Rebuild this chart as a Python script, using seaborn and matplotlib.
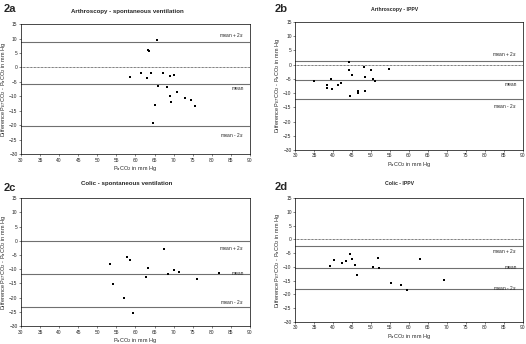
import numpy as np
import pandas as pd
import matplotlib
matplotlib.use("Agg")
import matplotlib.pyplot as plt
import seaborn as sns

# Dados (PaCO2, diferença PETCO2 - PaCO2)
a_x = [65.6, 63.2, 63.6, 58.7, 61.4, 63.1, 64.2, 67.2, 69.1, 70.0,
       65.8, 68.3, 70.9, 69.1, 65.1, 69.4, 73.0, 74.6, 75.6, 64.6]
a_y = [9.6, 6.1, 5.6, -3.4, -1.8, -3.6, -1.9, -1.9, -2.8, -2.7,
       -6.6, -6.9, -8.4, -9.9, -12.9, -12.1, -10.7, -11.3, -13.4, -19.1]

b_x = [35.1, 38.5, 38.5, 39.5, 39.8, 41.3, 42.1, 44.3, 44.1, 44.9,
       44.4, 46.7, 46.5, 48.1, 48.5, 48.5, 50.1, 50.5, 51.0, 54.7]
b_y = [-5.8, -7.1, -8.1, -5.1, -8.4, -7.0, -6.6, 1.1, -1.7, -3.6,
       -11.1, -9.2, -9.9, -0.8, -4.3, -9.1, -1.8, -5.1, -5.7, -1.6]

c_x = [53.3, 54.2, 57.7, 58.5, 57.0, 59.3, 62.8, 63.2, 67.6, 68.6,
       70.0, 71.4, 76.2, 82.0]
c_y = [-8.2, -15.1, -5.8, -6.7, -20.1, -25.4, -12.9, -9.5, -2.9, -11.8,
       -10.3, -10.8, -13.5, -11.4]

d_x = [39.3, 40.2, 42.3, 43.5, 44.4, 44.9, 45.9, 46.3, 50.6, 51.8,
       52.1, 55.2, 57.9, 59.5, 62.9, 69.1]
d_y = [-9.6, -7.4, -8.4, -7.7, -5.4, -7.1, -9.2, -12.9, -9.9, -6.9,
       -10.3, -15.8, -16.5, -18.3, -7.1, -14.8]

# limites: mean + 2s, mean, mean - 2s
a_lim = [8.9, -5.6, -20.1]
b_lim = [1.2, -5.5, -12.2]
c_lim = [-0.1, -11.7, -23.2]
d_lim = [-2.5, -10.3, -18.1]

titles = ["Arthroscopy - spontaneous ventilation", "Arthroscopy - IPPV",
          "Colic - spontaneous ventilation", "Colic - IPPV"]
tags = ["2a", "2b", "2c", "2d"]
lim_labels = ["mean + 2$s$", "mean", "mean - 2$s$"]
# posição vertical dos rótulos das linhas
a_lab = [11.3, -7.3, -23.3]
b_lab = [3.6, -6.8, -14.6]
c_lab = [-2.7, -11.6, -21.5]
d_lab = [-4.3, -10.2, -17.7]

sns.set_style("white")
plt.rcParams['font.family'] = ['Liberation Sans', 'DejaVu Sans']

fig = plt.figure(figsize=(5.26, 3.44), dpi=100)
rects = [[0.040, 0.552, 0.435, 0.378],
         [0.561, 0.564, 0.433, 0.372],
         [0.040, 0.052, 0.435, 0.372],
         [0.561, 0.064, 0.433, 0.360]]
paineis = [(a_x, a_y, a_lim, a_lab), (b_x, b_y, b_lim, b_lab),
           (c_x, c_y, c_lim, c_lab), (d_x, d_y, d_lim, d_lab)]
# posição e tamanho dos títulos
tit_pos = [(0.243, 0.968), (0.751, 0.971), (0.241, 0.468), (0.760, 0.468)]
tit_fs = [4.4, 3.7, 4.4, 3.7]

for i, (xs, ys, lims, labs) in enumerate(paineis):
    ax = fig.add_axes(rects[i])
    df = pd.DataFrame({"x": xs, "y": ys})
    ax.axhline(0, color="black", lw=0.5, ls=(0, (1, 1)), zorder=1)
    for v in lims:
        ax.axhline(v, color="#707070", lw=0.8, zorder=1)
    sns.scatterplot(data=df, x="x", y="y", ax=ax, color="black", marker="s",
                    s=4.5, linewidth=0, zorder=3)
    for lab, yl in zip(lim_labels, labs):
        ax.text(88.5, yl, lab, fontsize=3.5, ha="right", va="center")
    ax.set_xlim(30, 90)
    ax.set_ylim(-30, 15)
    ax.set_xticks(np.arange(30, 91, 5))
    ax.set_yticks(np.arange(-30, 16, 5))
    ax.tick_params(labelsize=3.5, length=1.5, width=0.4, pad=1,
                   direction="out", bottom=True, left=True)
    for sp in ax.spines.values():
        sp.set_linewidth(0.5)
        sp.set_color("black")
    ax.set_xlabel("P$_a$CO$_2$ in mm Hg", fontsize=4, labelpad=1)
    ax.set_ylabel("Difference P$_{ET}$CO$_2$ - P$_a$CO$_2$ in mm Hg",
                  fontsize=4, labelpad=1)
    fig.text(tit_pos[i][0], tit_pos[i][1], titles[i], fontsize=tit_fs[i],
             fontweight="bold", ha="center", va="center")

fig.text(0.006, 0.975, tags[0], fontsize=8, fontweight="bold", va="center")
fig.text(0.523, 0.975, tags[1], fontsize=8, fontweight="bold", va="center")
fig.text(0.006, 0.453, tags[2], fontsize=8, fontweight="bold", va="center")
fig.text(0.523, 0.456, tags[3], fontsize=8, fontweight="bold", va="center")

fig.savefig("out.png", dpi=100)
